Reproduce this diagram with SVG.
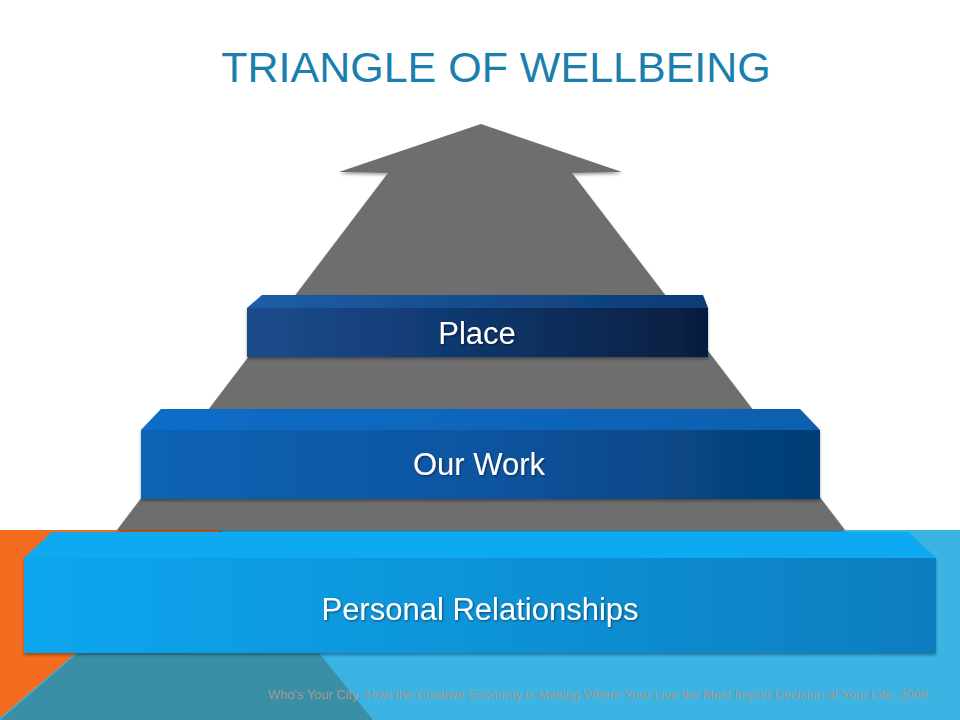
<svg xmlns="http://www.w3.org/2000/svg" width="960" height="720" viewBox="0 0 960 720">
<defs>
<style>
.lbl{font-family:"Liberation Sans",Arial,sans-serif;font-size:31px;fill:#ffffff;text-anchor:middle}
.title{font-family:"Liberation Sans",Arial,sans-serif;font-size:43px;fill:#1b7fae;text-anchor:middle}
.foot{font-family:"Liberation Sans",Arial,sans-serif;font-size:13px;fill:#a39a8e}
</style>
<linearGradient id="gPlace" x1="0" y1="0" x2="1" y2="0">
<stop offset="0" stop-color="#1d4c8c"/><stop offset="0.35" stop-color="#123d78"/><stop offset="0.75" stop-color="#0a2a55"/><stop offset="1" stop-color="#061d3e"/>
</linearGradient>
<linearGradient id="gPlaceTop" x1="0" y1="0" x2="1" y2="0">
<stop offset="0" stop-color="#1f5ea6"/><stop offset="1" stop-color="#0c3b74"/>
</linearGradient>
<linearGradient id="gWork" x1="0" y1="0" x2="1" y2="0">
<stop offset="0" stop-color="#0b63b5"/><stop offset="0.5" stop-color="#0a55a0"/><stop offset="1" stop-color="#053c74"/>
</linearGradient>
<linearGradient id="gWorkTop" x1="0" y1="0" x2="1" y2="0">
<stop offset="0" stop-color="#0c6dc9"/><stop offset="1" stop-color="#0a5fae"/>
</linearGradient>
<linearGradient id="gPers" x1="0" y1="0" x2="1" y2="0">
<stop offset="0" stop-color="#0ca6ef"/><stop offset="0.5" stop-color="#0a93d8"/><stop offset="1" stop-color="#0a7dbf"/>
</linearGradient>
<filter id="sh" x="-5%" y="-10%" width="110%" height="130%">
<feDropShadow dx="0" dy="2" stdDeviation="1.5" flood-color="#000" flood-opacity="0.35"/>
</filter>
<filter id="tsh" x="-5%" y="-20%" width="110%" height="140%">
<feDropShadow dx="1" dy="1" stdDeviation="0.8" flood-color="#000" flood-opacity="0.5"/>
</filter>
</defs>
<rect width="960" height="720" fill="#ffffff"/>
<g id="background">
<rect x="0" y="530" width="960" height="190" fill="#3bb3e3"/>
<polygon points="220,530 373,720 0,720" fill="#3a8fa7"/>
<polygon points="0,530 220,530 0,718" fill="#f36c1f"/>
</g>
<text id="title" class="title" x="496" y="82">TRIANGLE OF WELLBEING</text>
<g id="arrow" filter="url(#sh)">
<polygon points="481,124 622,172 572,173 845,530 117,530 388,173 339,172" fill="#6e6e6e"/>
</g>
<g id="connectors"></g>
<g id="place" filter="url(#sh)">
<polygon points="262,295 703,295 708,308 247,308" fill="url(#gPlaceTop)"/>
<rect x="247" y="308" width="461" height="49" fill="url(#gPlace)"/>
<text class="lbl" x="477" y="344" filter="url(#tsh)">Place</text>
</g>
<g id="our-work" filter="url(#sh)">
<polygon points="161,409 800,409 820,430 141,430" fill="url(#gWorkTop)"/>
<rect x="141" y="430" width="679" height="69" fill="url(#gWork)"/>
<text class="lbl" x="479" y="475" filter="url(#tsh)">Our Work</text>
</g>
<g id="personal-relationships" filter="url(#sh)">
<polygon points="52,532 908,532 936,558 24,558" fill="#10aaf2"/>
<rect x="24" y="558" width="912" height="95" fill="url(#gPers)"/>
<text class="lbl" x="480" y="620" filter="url(#tsh)">Personal Relationships</text>
</g>
<text id="footer" class="foot" x="268" y="699" textLength="663" lengthAdjust="spacingAndGlyphs">Who's Your City: How the Creative Economy is Making Where Your Live the Most Import Decision of Your Life, 2009.</text>
</svg>
